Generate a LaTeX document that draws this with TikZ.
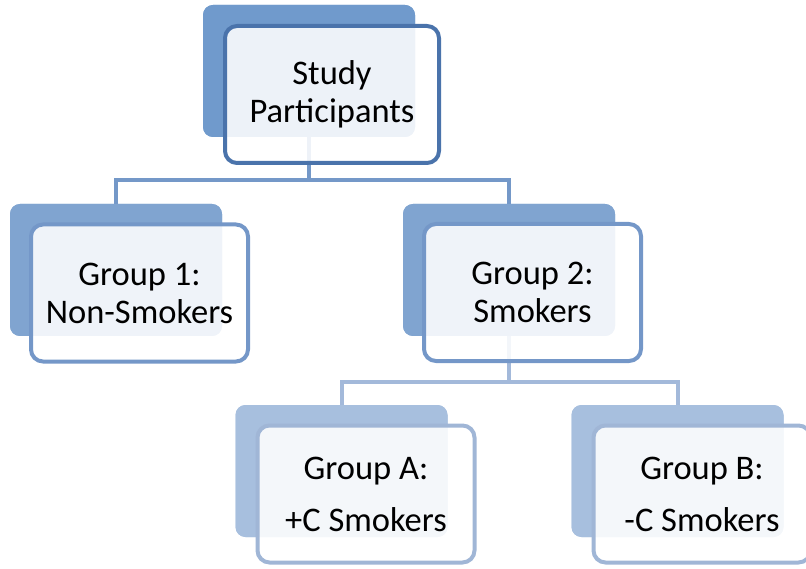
\documentclass[tikz,border=0pt]{standalone}
\usepackage{fontspec}
\setmainfont{Carlito}
\definecolor{backA}{RGB}{112,154,204}
\definecolor{lineA}{RGB}{74,115,171}
\definecolor{busA}{RGB}{116,152,200}
\definecolor{backB}{RGB}{128,164,208}
\definecolor{lineB}{RGB}{116,151,200}
\definecolor{busB}{RGB}{163,185,218}
\definecolor{backC}{RGB}{167,191,222}
\definecolor{lineC}{RGB}{160,182,214}
\tikzset{
  backbox/.style={draw=none, fill=#1, rounded corners=10pt, minimum width=212pt, minimum height=132pt, inner sep=0pt, outer sep=0pt},
  frontbox/.style={draw=#1, line width=4pt, fill=white, fill opacity=0.88, text opacity=1, rounded corners=12pt, minimum width=217pt, minimum height=137pt, inner sep=0pt, outer sep=0pt, align=center, font=\fontsize{34.5}{38}\selectfont},
  bus/.style={draw=#1, line width=4pt}
}
\begin{document}
\begin{tikzpicture}[x=1pt,y=-1pt]
\useasboundingbox (0,0) rectangle (806,569);
% named coordinates for bus levels
\coordinate (busone) at (0,180);
\coordinate (bustwo) at (0,382);
% back boxes
\node[backbox=backA] (topb) at (309,71) {};
\node[backbox=backB] (g1b) at (116,270) {};
\node[backbox=backB] (g2b) at (509,270) {};
\node[backbox=backC] (gab) at (341.5,471) {};
\node[backbox=backC] (gbb) at (677.5,471) {};
% connectors
\draw[bus=busA] (topb.south) -- (topb.south |- busone) -| (g1b.north);
\draw[bus=busA] (topb.south |- busone) -| (g2b.north);
\draw[bus=busB] (g2b.south) -- (g2b.south |- bustwo) -| (gab.north);
\draw[bus=busB] (g2b.south |- bustwo) -| (gbb.north);
% redraw back boxes above connectors
\node[backbox=backA] at (topb) {};
\node[backbox=backB] at (g1b) {};
\node[backbox=backB] at (g2b) {};
\node[backbox=backC] at (gab) {};
\node[backbox=backC] at (gbb) {};
% front boxes
\node[frontbox=lineA, minimum width=214pt] (top) at (332,94.5) {Study\\Participants};
\node[frontbox=lineB] (g1) at (139.5,293) {Group 1:\\Non-Smokers};
\node[frontbox=lineB] (g2) at (532.5,292.5) {Group 2:\\Smokers};
\node[frontbox=lineC] (ga) at (366,494) {Group A:\\[14pt]+C Smokers};
\node[frontbox=lineC] (gb) at (702,494) {Group B:\\[14pt]-C Smokers};
\end{tikzpicture}
\end{document}
